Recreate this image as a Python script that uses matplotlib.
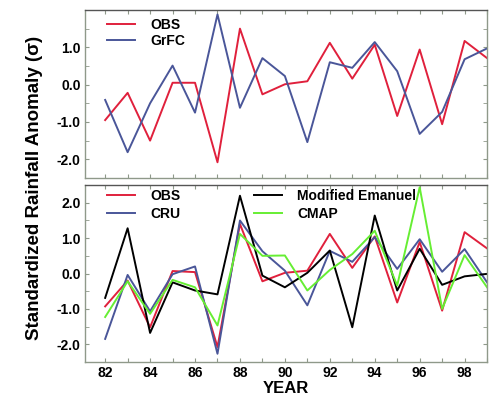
import matplotlib
matplotlib.use("Agg")
import matplotlib.pyplot as plt

years = list(range(82, 100))

# top panel
obs = [-0.95, -0.22, -1.50, 0.05, 0.05, -2.08, 1.50, -0.26, 0.01, 0.09,
       1.12, 0.16, 1.07, -0.84, 0.94, -1.06, 1.17, 0.71]
grfc = [-0.41, -1.81, -0.50, 0.51, -0.75, 1.88, -0.62, 0.71, 0.23, -1.54,
        0.60, 0.45, 1.14, 0.36, -1.32, -0.73, 0.68, 0.97]

# bottom panel
obs2 = [-0.93, -0.20, -1.52, 0.07, 0.04, -2.08, 1.40, -0.22, 0.02, 0.08,
        1.12, 0.16, 1.05, -0.82, 0.89, -1.05, 1.17, 0.71]
cru = [-1.85, -0.04, -1.07, -0.02, 0.20, -2.27, 1.50, 0.63, 0.08, -0.90,
       0.64, 0.33, 1.03, 0.13, 0.97, 0.05, 0.69, -0.25]
emanuel = [-0.69, 1.28, -1.68, -0.25, -0.48, -0.59, 2.20, -0.06, -0.39, 0.02,
           0.65, -1.52, 1.64, -0.48, 0.70, -0.32, -0.08, -0.01]
cmap = [-1.23, -0.22, -1.14, -0.18, -0.39, -1.47, 1.12, 0.50, 0.51, -0.48,
        0.10, 0.55, 1.21, -0.34, 2.44, -1.00, 0.52, -0.39]

RED = "#e0203c"
BLUE = "#4a5699"
GREEN = "#66ee33"
FRAME = "#8f998a"

plt.rcParams["font.family"] = ["Liberation Sans", "DejaVu Sans"]
plt.rcParams["font.weight"] = "bold"

fig = plt.figure(figsize=(4.91, 3.99), dpi=100)
ax1 = fig.add_axes([0.173, 0.554, 0.819, 0.421])
ax2 = fig.add_axes([0.173, 0.093, 0.819, 0.443])

ax1.plot(years, obs, color=RED, lw=1.4, label="OBS")
ax1.plot(years, grfc, color=BLUE, lw=1.4, label="GrFC")
ax1.set_ylim(-2.5, 2.0)

ax2.plot(years, obs2, color=RED, lw=1.4, label="OBS")
ax2.plot(years, cru, color=BLUE, lw=1.4, label="CRU")
ax2.plot(years, emanuel, color="black", lw=1.4, label="Modified Emanuel")
ax2.plot(years, cmap, color=GREEN, lw=1.4, label="CMAP")
ax2.set_ylim(-2.5, 2.5)

for ax in (ax1, ax2):
    ax.set_xlim(81.1, 99.0)
    ax.set_xticks(years)
    ax.set_xticklabels([str(y) if y % 2 == 0 else "" for y in years])
    ax.set_yticks([-2.0, -1.0, 0.0, 1.0, 2.0])
    ax.set_yticks([-2.5, -1.5, -0.5, 0.5, 1.5], minor=True)
    ax.yaxis.set_major_formatter(matplotlib.ticker.FormatStrFormatter("%.1f"))
    ax.tick_params(direction="in", top=True, right=True, length=3,
                   color=FRAME, labelsize=10, pad=3)
    ax.tick_params(which="minor", direction="in", right=True, length=3,
                   color=FRAME)
    for sp in ax.spines.values():
        sp.set_color(FRAME)
        sp.set_linewidth(1.0)
    ax.spines["top"].set_color("#555555")

ax1.tick_params(labelbottom=False)
ax1.set_yticks([-2.0, -1.0, 0.0, 1.0])

ax1.legend(loc="upper left", frameon=False, fontsize=10, handlelength=2.0,
           borderaxespad=0, borderpad=0, labelspacing=0.15,
           handletextpad=1.1, bbox_to_anchor=(0.055, 0.955))
ax2.legend(loc="upper left", frameon=False, fontsize=10, ncol=2,
           handlelength=2.0, borderaxespad=0, borderpad=0,
           labelspacing=0.3, handletextpad=1.1, columnspacing=5.3,
           bbox_to_anchor=(0.055, 0.98))

ax2.set_xlabel("YEAR", fontsize=12, fontweight="bold", labelpad=1)
fig.text(0.07, 0.53, "Standardized Rainfall Anomaly (\u03c3)", rotation=90,
         ha="center", va="center", fontsize=13.5, fontweight="bold")

fig.savefig("out.png", dpi=100)
